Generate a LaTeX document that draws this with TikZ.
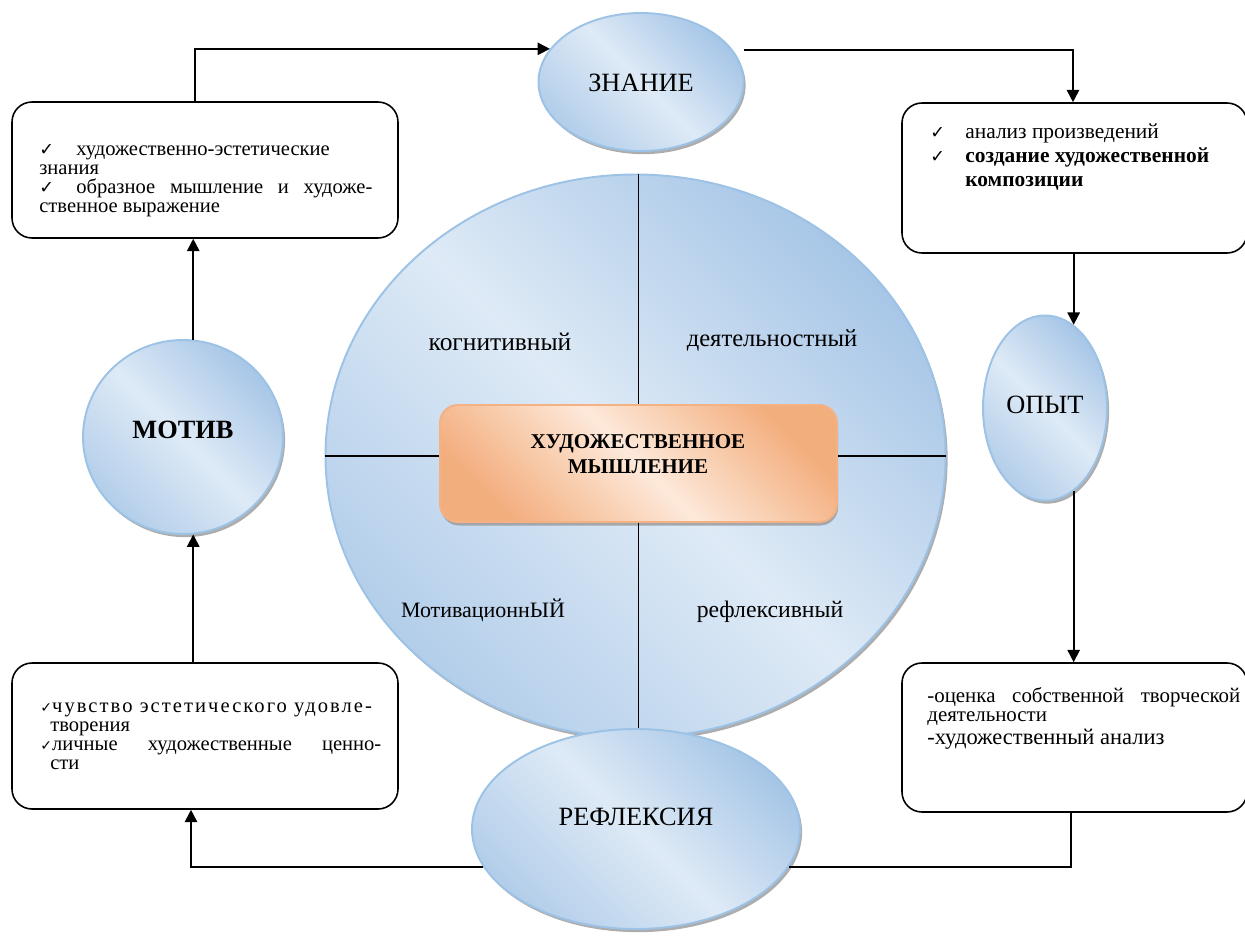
\documentclass[tikz,border=0pt]{standalone}
\usepackage{fontspec}
\setmainfont{Liberation Serif}
\newfontfamily\ckfont{DejaVu Sans}
\usetikzlibrary{shapes.geometric,arrows.meta,shadows}
\newdimen\px \px=0.02cm
\newcommand\ck{{\ckfont\fontsize{10}{10}\selectfont ✓}}
\newcommand\cks{{\ckfont\fontsize{8}{8}\selectfont ✓}}
\definecolor{bd}{HTML}{A7C6E7}
\definecolor{bdd}{HTML}{B3CEEA}
\definecolor{bl}{HTML}{DEEAF6}
\definecolor{bb}{HTML}{9CC2E5}
\definecolor{od}{HTML}{F3AE7E}
\definecolor{ol}{HTML}{FDE9DA}
\definecolor{ob}{HTML}{F4B183}
\begin{document}
\begin{tikzpicture}[x=0.02cm,y=-0.02cm,
  ball/.style={ellipse, draw=bb, line width=1.1pt, inner sep=0pt,
    top color=bd, bottom color=bdd, middle color=bl, shading angle=-45,
    drop shadow={shadow xshift=1.2pt, shadow yshift=-1.8pt, fill=black!40, opacity=0.8}},
  cbox/.style={rectangle, draw=ob, line width=1.1pt, rounded corners=0.36cm, inner sep=0pt,
    top color=od, bottom color=od, middle color=ol, shading angle=-45,
    drop shadow={shadow xshift=0.6pt, shadow yshift=-2pt, fill=black!40, opacity=0.8}},
  rbox/.style={rectangle, draw=black, line width=0.9pt, rounded corners=0.4cm, fill=white, inner sep=0pt},
  con/.style={draw=black, line width=1pt},
  arr/.style={con, -{Triangle[length=7pt,width=7pt]}},
  thin/.style={draw=black, line width=0.6pt},
  txt/.style={inner sep=0pt, anchor=base west},
  lbl/.style={inner sep=0pt, font=\fontsize{13.5}{15}\selectfont}
]
\useasboundingbox (0,0) rectangle (1245,940);

% big circle
\node[ball, minimum width=620\px, minimum height=563\px] (big) at (635.5,456) {};
\node[cbox, minimum width=397\px, minimum height=117\px] (ctr) at (638.5,463.5) {};
\draw[thin] (ctr.north |- big.north) -- (ctr.north);
\draw[thin] (ctr.south) -- (ctr.south |- big.south);
\draw[thin] (big.west) -- (big.west -| ctr.west);
\draw[thin] (ctr.east |- big.east) -- (big.east);
\node[font=\bfseries\fontsize{12}{14}\selectfont, align=center, inner sep=0pt] (ctrt) at (638,454) {ХУДОЖЕСТВЕННОЕ\\МЫШЛЕНИЕ};

\node[lbl, font=\fontsize{14.5}{15}\selectfont] (k1) at (500,342) {когнитивный};
\node[lbl, font=\fontsize{14}{15}\selectfont] (k2) at (772,340) {деятельностный};
\node[lbl, font=\fontsize{12.5}{15}\selectfont] (k3) at (483,610) {МотивационнЫЙ};
\node[lbl] (k4) at (770,612) {рефлексивный};

% ellipses
\node[ball, minimum width=205\px, minimum height=138\px, font=\fontsize{15}{15}\selectfont, text height=19.5\px, text depth=0pt] (zn) at (641,82) {ЗНАНИЕ};
\node[ball, minimum width=124\px, minimum height=185\px, font=\fontsize{15}{15}\selectfont, text height=11.5\px, text depth=0pt] (op) at (1045,408) {ОПЫТ};
\node[ball, minimum width=200\px, minimum height=194\px, font=\bfseries\fontsize{15}{15}\selectfont, text height=3.5\px, text depth=0pt] (mo) at (183,437) {МОТИВ};
\node[ball, minimum width=328\px, minimum height=200\px, font=\fontsize{15}{15}\selectfont, text height=0pt, text depth=6.5\px] (rf) at (636,829) {РЕФЛЕКСИЯ};

% boxes
\node[rbox, minimum width=386\px, minimum height=136\px] (tl) at (205,170) {};
\node[rbox, minimum width=345\px, minimum height=150\px] (tr) at (1074.5,178) {};
\node[rbox, minimum width=386\px, minimum height=146\px] (bl) at (205,736) {};
\node[rbox, minimum width=345\px, minimum height=149\px] (br) at (1074.5,737.5) {};

% box texts
\node[txt, font=\fontsize{11.7}{10.9}\selectfont] (tlt) at (39,155) {\vtop{%
  \hbox{\makebox[37\px][l]{\ck}художественно-эстетические}
  \hbox{знания}
  \hbox to 333\px{\makebox[37\px][l]{\ck}образное мышление и художе-}
  \hbox{ственное выражение}}};
\node[txt, font=\fontsize{12.2}{13.9}\selectfont] (trt) at (930,138) {\vtop{%
  \hbox{\makebox[35\px][l]{\ck}анализ произведений}
  \hbox{\makebox[35\px][l]{\ck}\textbf{создание художественной}}
  \hbox{\makebox[35\px][l]{}\textbf{композиции}}}};
\node[txt, font=\fontsize{11.7}{10.9}\selectfont] (blt) at (40,712) {\vtop{%
  \hbox{\cks{\addfontfeature{LetterSpace=10}чувство эстетического удовле-}}
  \hbox{\hskip 10\px творения}
  \hbox to 341\px{\cks личные художественные ценно-}
  \hbox{\hskip 10\px сти}}};
\node[txt, font=\fontsize{11.9}{11.3}\selectfont] (brt) at (927,702) {\vtop{%
  \hbox to 313\px{-оценка собственной творческой}
  \hbox{деятельности}
  \vskip 3\px
  \hbox{\fontsize{12.8}{13}\selectfont -художественный анализ}}};

% connectors
\draw[arr] ([xshift=-10\px]tl.north) |- (zn.160.6);
\draw[arr] ([xshift=11\px]zn.19.4) -| ([xshift=-1.5\px]tr.north);
\draw[arr] (tr.south -| op.71) -- (op.71);
\draw[arr] (op.-71) -- (br.north -| op.-71);
\draw[con] ([xshift=-3.5\px]br.south) |- (rf.-14.06);
\draw[arr] (rf.194.06) -| ([xshift=-14\px]bl.south);
\draw[arr] (bl.north -| mo.-84.08) -- (mo.-84.08);
\draw[arr] (mo.84.08) -- (tl.south -| mo.84.08);
\end{tikzpicture}
\end{document}
